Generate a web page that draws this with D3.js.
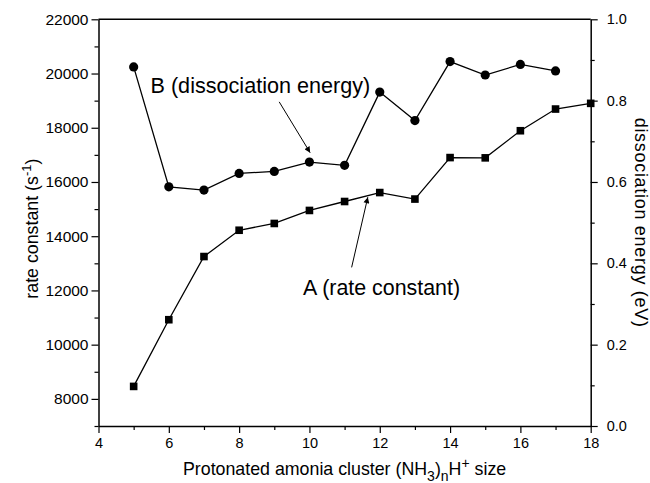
<!DOCTYPE html>
<html>
<head>
<meta charset="utf-8">
<script src="https://cdn.jsdelivr.net/npm/d3@7"></script>
<style>
  body { margin: 0; background: #fff; }
  svg text { font-family: "Liberation Sans", Arial, sans-serif; fill: #000; }
</style>
</head>
<body>
<div id="chart"></div>
<script>
// cluster sizes n
var sizesA = [5, 6, 7, 8, 9, 10, 11, 12, 13, 14, 15, 16, 17, 18]
var sizesB = [5, 6, 7, 8, 9, 10, 11, 12, 13, 14, 15, 16, 17]
// A: rate constant (s^-1), left axis
var rateConstant = [8460, 10920, 13250, 14220, 14470, 14950, 15280, 15610, 15370, 16900, 16890, 17890, 18690, 18900]
// B: dissociation energy (eV), right axis
var dissEnergy = [0.883, 0.588, 0.580, 0.621, 0.626, 0.649, 0.641, 0.821, 0.751, 0.896, 0.863, 0.889, 0.873]

var xTicks = [4, 6, 8, 10, 12, 14, 16, 18]
var leftTicks = [8000, 10000, 12000, 14000, 16000, 18000, 20000, 22000]
var rightTicks = [0.0, 0.2, 0.4, 0.6, 0.8, 1.0]

var width = 650, height = 483
// note: "top" is taken by window.top, so use plot* names
var plotL = 98.5, plotR = 590.7, plotT = 19.3, plotB = 426

var svg = d3.select("#chart").append("svg")
  .attr("width", width)
  .attr("height", height)

var x = d3.scaleLinear().domain([4, 18]).range([plotL, plotR])
var yL = d3.scaleLinear().domain([7000, 22000]).range([plotB, plotT])
var yR = d3.scaleLinear().domain([0, 1]).range([plotB, plotT])

// minor ticks first, then major ones
function minorTicks(axis) {
  axis.selectAll("text").remove()
  axis.select(".domain").remove()
}

svg.append("g").attr("transform", "translate(0," + plotB + ")")
  .call(d3.axisBottom(x).tickValues(d3.range(5, 18, 2)).tickSize(4))
  .call(minorTicks)
svg.append("g").attr("transform", "translate(" + plotL + ",0)")
  .call(d3.axisLeft(yL).tickValues(d3.range(7000, 22000, 2000)).tickSize(4))
  .call(minorTicks)
svg.append("g").attr("transform", "translate(" + plotR + ",0)")
  .call(d3.axisRight(yR).tickValues([0.1, 0.3, 0.5, 0.7, 0.9]).tickSize(4))
  .call(minorTicks)

var gx = svg.append("g").attr("transform", "translate(0," + plotB + ")")
  .call(d3.axisBottom(x).tickValues(xTicks).tickSize(7).tickPadding(5).tickSizeOuter(0))
var gl = svg.append("g").attr("transform", "translate(" + plotL + ",0)")
  .call(d3.axisLeft(yL).tickValues(leftTicks).tickFormat(d3.format("d")).tickSize(7).tickPadding(3).tickSizeOuter(0))
var gr = svg.append("g").attr("transform", "translate(" + plotR + ",0)")
  .call(d3.axisRight(yR).tickValues(rightTicks).tickFormat(d3.format(".1f")).tickSize(7).tickPadding(9).tickSizeOuter(0))

svg.selectAll(".tick text").style("font-family", '"Liberation Sans", Arial, sans-serif')
gx.selectAll(".tick text").style("font-size", "14.5px")
gl.selectAll(".tick text").style("font-size", "15.5px")
gr.selectAll(".tick text").style("font-size", "14.5px")
svg.selectAll(".tick line").attr("stroke", "#000").attr("stroke-width", 1.2)
svg.selectAll(".domain").attr("stroke", "#000").attr("stroke-width", 1.5)

// top frame line (no ticks)
svg.append("line")
  .attr("x1", plotL).attr("x2", plotR)
  .attr("y1", plotT).attr("y2", plotT)
  .attr("stroke", "#000").attr("stroke-width", 1.5)

// series A: squares
var lineA = d3.line().x(function(d, i) { return x(sizesA[i]) }).y(function(d) { return yL(d) })
svg.append("path").datum(rateConstant)
  .attr("d", lineA).attr("fill", "none").attr("stroke", "#000").attr("stroke-width", 1.3)
svg.selectAll(".sq").data(rateConstant).enter().append("rect")
  .attr("x", function(d, i) { return x(sizesA[i]) - 3.8 })
  .attr("y", function(d) { return yL(d) - 3.8 })
  .attr("width", 7.6).attr("height", 7.6)
  .attr("fill", "#000")

// series B: circles
var lineB = d3.line().x(function(d, i) { return x(sizesB[i]) }).y(function(d) { return yR(d) })
svg.append("path").datum(dissEnergy)
  .attr("d", lineB).attr("fill", "none").attr("stroke", "#000").attr("stroke-width", 1.3)
svg.selectAll(".ci").data(dissEnergy).enter().append("circle")
  .attr("cx", function(d, i) { return x(sizesB[i]) })
  .attr("cy", function(d) { return yR(d) })
  .attr("r", 4.6)
  .attr("fill", "#000")

// arrow marker
svg.append("defs").append("marker")
  .attr("id", "arr")
  .attr("viewBox", "0 0 10 10")
  .attr("refX", 10).attr("refY", 5)
  .attr("markerWidth", 8).attr("markerHeight", 6)
  .attr("markerUnits", "userSpaceOnUse")
  .attr("orient", "auto")
  .append("path").attr("d", "M0,0 L10,5 L0,10 Z").attr("fill", "#000")

// annotation B
svg.append("text")
  .attr("x", x(5.48)).attr("y", yR(0.818))
  .style("font-size", "21.6px")
  .text("B (dissociation energy)")
svg.append("line")
  .attr("x1", x(9.14)).attr("y1", yR(0.797))
  .attr("x2", x(10.02)).attr("y2", yR(0.672))
  .attr("stroke", "#000").attr("stroke-width", 1)
  .attr("marker-end", "url(#arr)")

// annotation A
svg.append("text")
  .attr("x", x(9.82)).attr("y", yL(11840))
  .style("font-size", "21.4px")
  .text("A (rate constant)")
svg.append("line")
  .attr("x1", x(11.2)).attr("y1", yL(12850))
  .attr("x2", x(11.66)).attr("y2", yL(15440))
  .attr("stroke", "#000").attr("stroke-width", 1)
  .attr("marker-end", "url(#arr)")

// x axis title
var xt = svg.append("text")
  .attr("x", (plotL + plotR) / 2).attr("y", 475)
  .attr("text-anchor", "middle")
  .style("font-size", "17.8px")
xt.append("tspan").text("Protonated amonia cluster (NH")
xt.append("tspan").attr("dy", 6).style("font-size", "14px").text("3")
xt.append("tspan").attr("dy", -6).text(")")
xt.append("tspan").attr("dy", 6).style("font-size", "14px").text("n")
xt.append("tspan").attr("dy", -6).text("H")
xt.append("tspan").attr("dy", -7).style("font-size", "14px").text("+")
xt.append("tspan").attr("dy", 7).text(" size")

// left axis title
var yt = svg.append("text")
  .attr("transform", "translate(38," + ((plotT + plotB) / 2 + 6) + ") rotate(-90)")
  .attr("text-anchor", "middle")
  .style("font-size", "17.8px")
yt.append("tspan").text("rate constant (s")
yt.append("tspan").attr("dy", -7).style("font-size", "13px").text("-1")
yt.append("tspan").attr("dy", 7).text(")")

// right axis title
svg.append("text")
  .attr("transform", "translate(635," + (plotT + plotB) / 2 + ") rotate(90)")
  .attr("text-anchor", "middle")
  .style("font-size", "18px")
  .style("letter-spacing", "0.7px")
  .text("dissociation energy (eV)")
</script>
</body>
</html>
